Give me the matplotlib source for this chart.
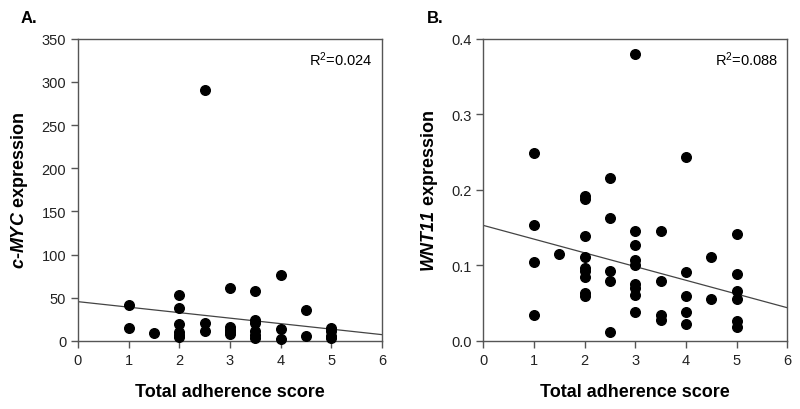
import matplotlib
matplotlib.use("Agg")
import matplotlib.pyplot as plt
from matplotlib.ticker import FormatStrFormatter

plt.rcParams['font.family'] = ['Liberation Sans', 'DejaVu Sans']
plt.rcParams['mathtext.fontset'] = 'custom'
plt.rcParams['mathtext.rm'] = 'Liberation Sans'
plt.rcParams['mathtext.it'] = 'Liberation Sans:italic'
plt.rcParams['mathtext.bf'] = 'Liberation Sans:bold'
plt.rcParams['mathtext.bfit'] = 'Liberation Sans:italic:bold'

# Panel A: c-MYC expression vs total adherence score
a_x = [1, 1, 1.5,
       2, 2, 2, 2, 2, 2,
       2.5, 2.5, 2.5,
       3, 3, 3, 3, 3,
       3.5, 3.5, 3.5, 3.5, 3.5, 3.5,
       4, 4, 4,
       4.5, 4.5,
       5, 5, 5, 5]
a_y = [42, 15, 9,
       53, 38, 20, 10, 7, 4,
       291, 21, 12,
       61, 16, 13, 10, 8,
       58, 24, 21, 11, 7, 3.5,
       76, 14, 2.5,
       36, 6,
       15, 11, 6, 3.5]
a_line_x = [0, 6]
a_line_y = [45.5, 7.3]
a_r2 = "0.024"

# Panel B: WNT11 expression vs total adherence score
b_x = [1, 1, 1, 1,
       1.5,
       2, 2, 2, 2, 2, 2, 2, 2, 2,
       2.5, 2.5, 2.5, 2.5, 2.5,
       3, 3, 3, 3, 3, 3, 3, 3, 3,
       3.5, 3.5, 3.5, 3.5,
       4, 4, 4, 4, 4,
       4.5, 4.5,
       5, 5, 5, 5, 5, 5]
b_y = [0.249, 0.153, 0.104, 0.034,
       0.115,
       0.192, 0.188, 0.139, 0.111, 0.097, 0.093, 0.084, 0.063, 0.059,
       0.216, 0.163, 0.093, 0.079, 0.012,
       0.380, 0.146, 0.127, 0.107, 0.100, 0.076, 0.070, 0.061, 0.038,
       0.145, 0.079, 0.034, 0.028,
       0.243, 0.091, 0.059, 0.038, 0.022,
       0.111, 0.055,
       0.141, 0.089, 0.066, 0.056, 0.027, 0.018]
b_line_x = [0, 6]
b_line_y = [0.153, 0.044]
b_r2 = "0.088"

fig = plt.figure(figsize=(8, 4.1), dpi=100)
axA = fig.add_axes([0.0975, 0.166, 0.38, 0.737])
axB = fig.add_axes([0.604, 0.166, 0.38, 0.737])

frame_col = '#555555'
tick_col = '#222222'

def style(ax):
    for s in ax.spines.values():
        s.set_color(frame_col)
        s.set_linewidth(1.0)
    ax.tick_params(direction='out', length=5, width=1, color=frame_col,
                   labelsize=10.5, labelcolor=tick_col, top=False, right=False)
    ax.set_xlim(0, 6)
    ax.set_xticks(range(0, 7))
    ax.set_xlabel('Total adherence score', fontsize=13, fontweight='bold', labelpad=12)

axA.scatter(a_x, a_y, s=48, color='black', zorder=3, clip_on=False)
axA.plot(a_line_x, a_line_y, color='#444444', lw=0.9)
axA.set_ylim(0, 350)
axA.set_yticks(range(0, 351, 50))
style(axA)
axA.set_ylabel(r'$\mathbfit{c}$-$\mathbfit{MYC}$ expression', fontsize=13, fontweight='bold', labelpad=8)
axA.text(0.97, 0.965, r'R$^2$=' + a_r2, transform=axA.transAxes, ha='right', va='top', fontsize=10.5)
fig.text(0.026, 0.955, 'A.', fontsize=12, fontweight='bold', va='center')

axB.scatter(b_x, b_y, s=48, color='black', zorder=3, clip_on=False)
axB.plot(b_line_x, b_line_y, color='#444444', lw=0.9)
axB.set_ylim(0, 0.4)
axB.set_yticks([0.0, 0.1, 0.2, 0.3, 0.4])
axB.yaxis.set_major_formatter(FormatStrFormatter('%.1f'))
style(axB)
axB.set_ylabel(r'$\mathbfit{WNT11}$ expression', fontsize=13, fontweight='bold', labelpad=8)
axB.text(0.97, 0.965, r'R$^2$=' + b_r2, transform=axB.transAxes, ha='right', va='top', fontsize=10.5)
fig.text(0.534, 0.955, 'B.', fontsize=12, fontweight='bold', va='center')

fig.savefig('out.png', dpi=100)
